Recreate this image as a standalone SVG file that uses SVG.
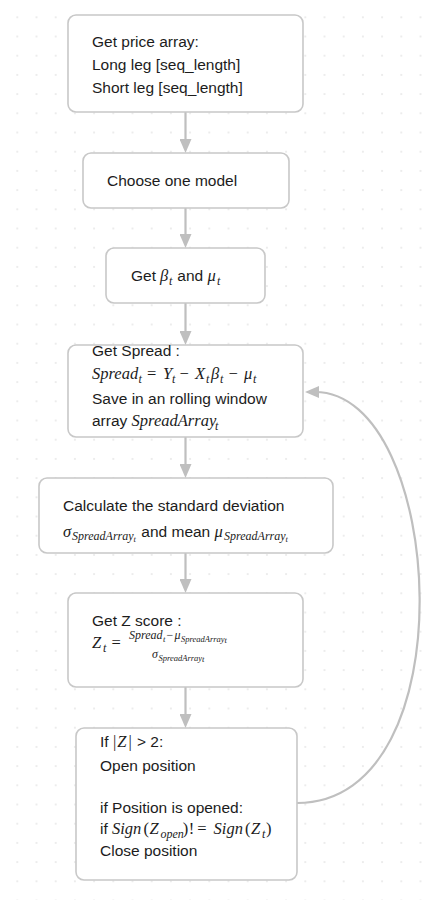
<svg xmlns="http://www.w3.org/2000/svg" width="431" height="900" viewBox="0 0 431 900">
<style>
.node rect{fill:#ffffff;stroke:#c8c8c8;stroke-width:1.6}
text{fill:#1c1c1c}
.s{font-family:"Liberation Sans",Arial,sans-serif;font-size:15.5px}
.m{font-family:"Liberation Serif","Times New Roman",serif;font-style:italic;font-size:16.5px}
.r{font-family:"Liberation Serif","Times New Roman",serif;font-size:16.5px}
.m1{font-family:"Liberation Serif","Times New Roman",serif;font-style:italic;font-size:12px}
.r1{font-family:"Liberation Serif","Times New Roman",serif;font-size:12px}
.m2{font-family:"Liberation Serif","Times New Roman",serif;font-style:italic;font-size:8.5px}
.conn path{fill:none;stroke:#bfbfbf;stroke-width:2.2}
</style>
<defs>
<pattern id="grid" patternUnits="userSpaceOnUse" x="7.7" y="7.7" width="19.2" height="19.2">
<circle cx="9.6" cy="9.6" r="0.8" fill="#d4d4d4"/>
</pattern>
<marker id="arr" markerUnits="userSpaceOnUse" markerWidth="14" markerHeight="12" viewBox="0 0 14 12" refX="4" refY="6" orient="auto">
<path d="M0,0 L14,6 L0,12 Z" fill="#bfbfbf"/>
</marker>
</defs>
<rect x="0" y="0" width="431" height="900" fill="#ffffff"/>
<rect x="0" y="0" width="431" height="900" fill="url(#grid)"/>

<g id="connectors" class="conn">
<path d="M185.5,112 L185.5,143" marker-end="url(#arr)"/>
<path d="M185.5,208 L185.5,238" marker-end="url(#arr)"/>
<path d="M185.5,303 L185.5,335" marker-end="url(#arr)"/>
<path d="M185.5,437 L185.5,468" marker-end="url(#arr)"/>
<path d="M185.5,553 L185.5,583" marker-end="url(#arr)"/>
<path d="M185.5,687 L185.5,718" marker-end="url(#arr)"/>
<path d="M297,803 C470,803 445,392 315,392" marker-end="url(#arr)"/>
</g>

<g id="node1" class="node">
<rect x="68" y="15" width="235" height="97" rx="8"/>
<text class="s" x="92" y="47">Get price array:</text>
<text class="s" x="92" y="70">Long leg [seq_length]</text>
<text class="s" x="92" y="93">Short leg [seq_length]</text>
</g>

<g id="node2" class="node">
<rect x="83" y="153" width="206" height="55" rx="8"/>
<text class="s" x="107" y="186">Choose one model</text>
</g>

<g id="node3" class="node">
<rect x="106" y="248" width="159" height="55" rx="8"/>
<text y="281"><tspan class="s" x="131">Get</tspan><tspan class="m" x="160">β</tspan><tspan class="m1" x="169" y="284.5">t</tspan><tspan class="s" x="177.3" y="281">and</tspan><tspan class="m" x="207.5">μ</tspan><tspan class="m1" x="217" y="284.5">t</tspan></text>
</g>

<g id="node4" class="node">
<rect x="68" y="345" width="235" height="92" rx="8"/>
<text class="s" x="92" y="356">Get Spread :</text>
<text y="379"><tspan class="m" x="92">Spread</tspan><tspan class="m1" x="138.5" y="382.5">t</tspan><tspan class="r" x="147" y="379">=</tspan><tspan class="m" x="163">Y</tspan><tspan class="m1" x="172" y="382.5">t</tspan><tspan class="r" x="179.5" y="379">−</tspan><tspan class="m" x="195">X</tspan><tspan class="m1" x="206" y="382.5">t</tspan><tspan class="m" x="211" y="379">β</tspan><tspan class="m1" x="220" y="382.5">t</tspan><tspan class="r" x="228.5" y="379">−</tspan><tspan class="m" x="244">μ</tspan><tspan class="m1" x="253" y="382.5">t</tspan></text>
<text class="s" x="92" y="403.5">Save in an rolling window</text>
<text y="426"><tspan class="s" x="92">array</tspan><tspan class="m" x="131.6">SpreadArray</tspan><tspan class="m1" x="215" y="429.5">t</tspan></text>
</g>

<g id="node5" class="node">
<rect x="39" y="478" width="294" height="75" rx="8"/>
<text class="s" x="63" y="510.5">Calculate the standard deviation</text>
<text y="537"><tspan class="m" x="63">σ</tspan><tspan class="m1" x="72" y="540">SpreadArray</tspan><tspan class="m2" x="133.5" y="542">t</tspan><tspan class="s" x="141.3" y="537">and mean</tspan><tspan class="m" x="214.5">μ</tspan><tspan class="m1" x="224" y="540">SpreadArray</tspan><tspan class="m2" x="285.5" y="542">t</tspan></text>
</g>

<g id="node6" class="node">
<rect x="68" y="593" width="235" height="94" rx="8"/>
<text class="s" x="92" y="626">Get Z score :</text>
<text y="648"><tspan class="m" x="92">Z</tspan><tspan class="m1" x="103" y="651.5">t</tspan><tspan class="r" x="111.5" y="648">=</tspan></text>
<text y="639"><tspan class="m1" x="129">Spread</tspan><tspan class="m2" x="163" y="641.5">t</tspan><tspan class="r1" x="166.5" y="639">−</tspan><tspan class="m1" x="174.5">μ</tspan><tspan class="m2" x="181" y="641.5">SpreadArray</tspan><tspan class="m2" x="224.5" y="643">t</tspan></text>
<text y="658"><tspan class="m1" x="152">σ</tspan><tspan class="m2" x="158.5" y="660.5">SpreadArray</tspan><tspan class="m2" x="202" y="662">t</tspan></text>
</g>

<g id="node7" class="node">
<rect x="76" y="728" width="221" height="152" rx="8"/>
<text y="747"><tspan class="s" x="100">If</tspan><tspan class="r" x="113">|</tspan><tspan class="m" x="117.3">Z</tspan><tspan class="r" x="128.4">|</tspan><tspan class="s" x="137">&gt; 2:</tspan></text>
<text class="s" x="100" y="770.5">Open position</text>
<text class="s" x="100" y="813">if Position is opened:</text>
<text y="834"><tspan class="s" x="100">if</tspan><tspan class="m" x="112">Sign</tspan><tspan class="r" x="143.4">(</tspan><tspan class="m" x="149.4">Z</tspan><tspan class="m1" x="160.5" y="837.5">open</tspan><tspan class="r" x="182.7" y="834">)</tspan><tspan class="r" x="188.7">!</tspan><tspan class="r" x="197.3">=</tspan><tspan class="m" x="213.6">Sign</tspan><tspan class="r" x="245">(</tspan><tspan class="m" x="251">Z</tspan><tspan class="m1" x="262" y="837.5">t</tspan><tspan class="r" x="266" y="834">)</tspan></text>
<text class="s" x="100" y="856">Close position</text>
</g>
</svg>
